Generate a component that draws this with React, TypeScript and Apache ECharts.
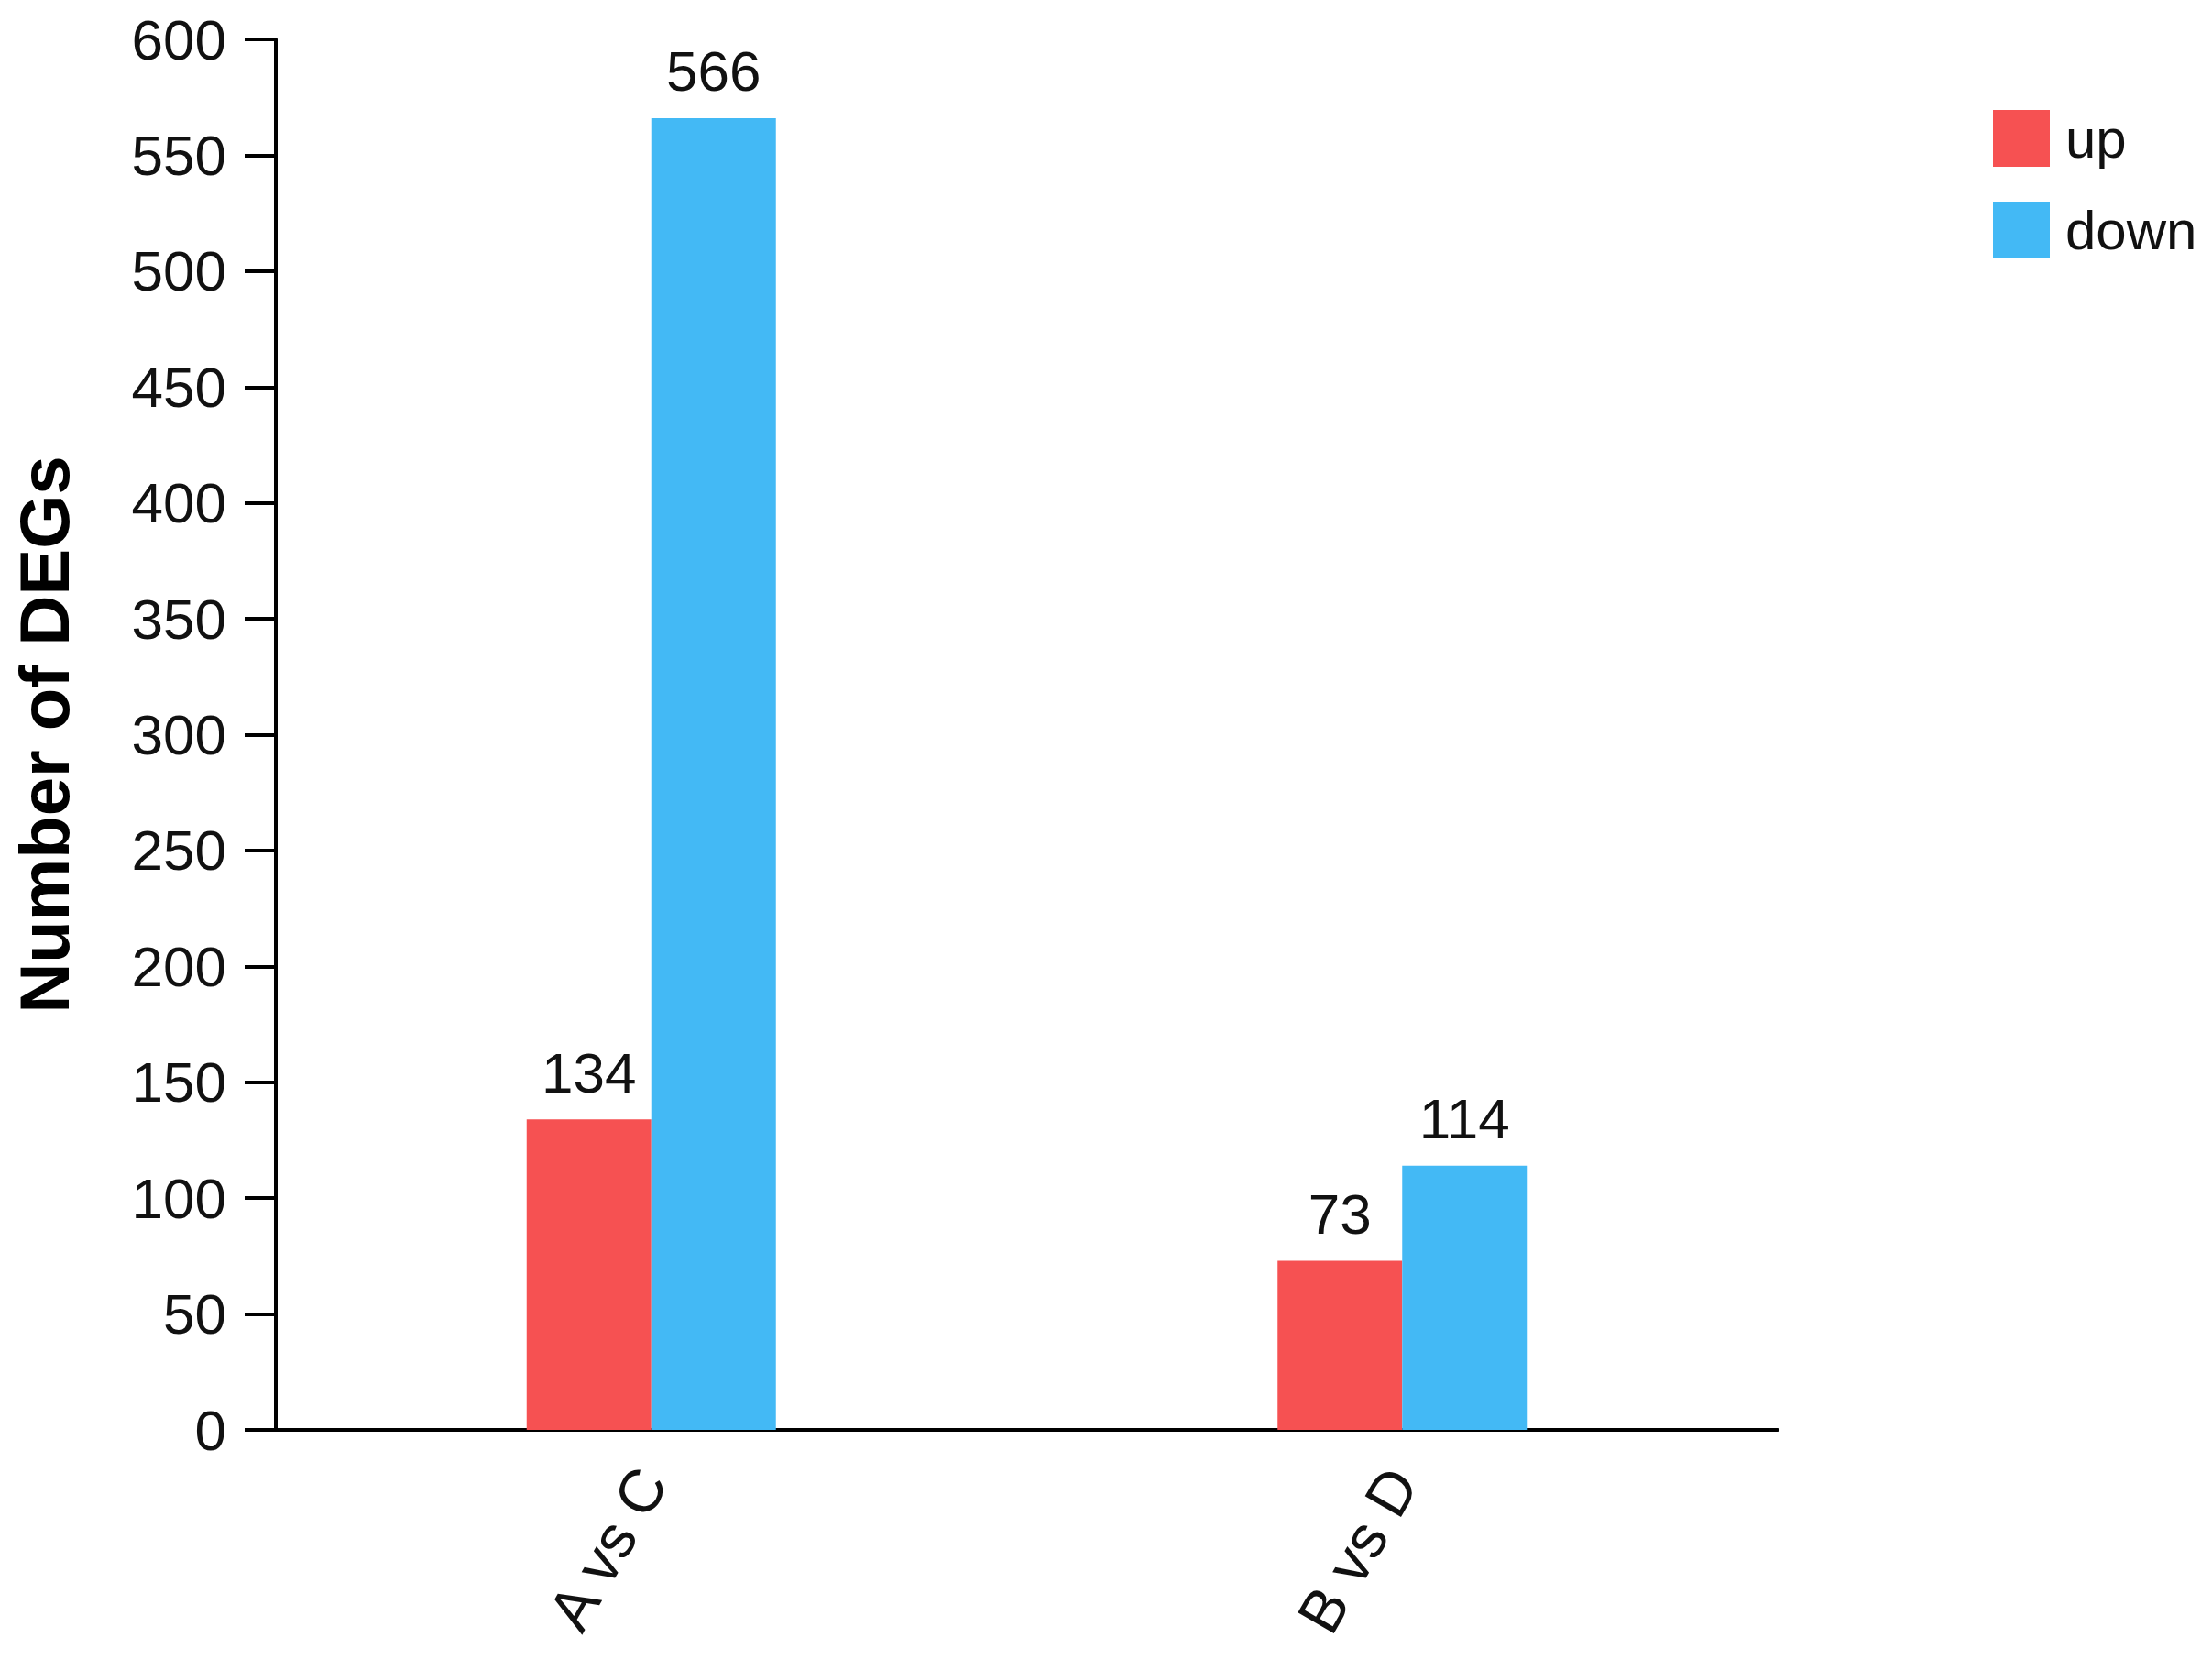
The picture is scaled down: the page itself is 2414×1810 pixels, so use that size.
import React, { useEffect, useRef } from "react";
import * as echarts from "echarts";

const categories = ["A vs C", "B vs D"];
const upValues = [134, 73];
const downValues = [566, 114];
const seriesNames = ["up", "down"];
const yTicks = { min: 0, max: 600, interval: 50 };
const FONT = "'Liberation Sans', Arial, sans-serif";

export default function App() {
  const ref = useRef<HTMLDivElement>(null);
  useEffect(() => {
    document.body.style.margin = "0";
    const chart = echarts.init(ref.current!, undefined, { renderer: "svg" });
    const label = {
      show: true,
      position: "top",
      distance: 20,
      color: "#111",
      fontSize: 62,
      fontFamily: FONT,
    };
    chart.setOption({
      animation: false,
      backgroundColor: "#ffffff",
      grid: { left: 301, right: 474, top: 43, bottom: 250, containLabel: false },
      legend: {
        orient: "vertical",
        left: 2175,
        top: 120,
        padding: 0,
        icon: "rect",
        itemWidth: 62,
        itemHeight: 62,
        itemGap: 38,
        textStyle: { fontSize: 60, fontFamily: FONT, color: "#111", padding: [0, 0, 0, 12] },
        data: seriesNames,
      },
      xAxis: {
        type: "category",
        data: categories,
        axisLine: { lineStyle: { color: "#000", width: 4 } },
        axisTick: { alignWithLabel: true, length: 32, lineStyle: { color: "#000", width: 4 } },
        axisLabel: { rotate: 60, fontSize: 66, fontFamily: FONT, color: "#111", margin: 47 },
      },
      yAxis: {
        type: "value",
        min: yTicks.min,
        max: yTicks.max,
        interval: yTicks.interval,
        name: "Number of DEGs",
        nameLocation: "middle",
        nameGap: 215,
        nameTextStyle: { fontSize: 76, fontWeight: "bold", fontFamily: FONT, color: "#000" },
        splitLine: { show: false },
        axisLine: { show: true, lineStyle: { color: "#000", width: 4 } },
        axisTick: { show: true, length: 34, lineStyle: { color: "#000", width: 4 } },
        axisLabel: { fontSize: 62, fontFamily: FONT, color: "#111", margin: 54 },
      },
      series: [
        {
          name: seriesNames[0],
          type: "bar",
          data: upValues,
          barWidth: 136,
          barGap: "0%",
          itemStyle: { color: "#F65152" },
          label,
        },
        {
          name: seriesNames[1],
          type: "bar",
          data: downValues,
          barWidth: 136,
          barGap: "0%",
          itemStyle: { color: "#43B9F5" },
          label,
        },
      ],
    });
    return () => chart.dispose();
  }, []);
  return <div ref={ref} style={{ width: 2414, height: 1810 }} />;
}
